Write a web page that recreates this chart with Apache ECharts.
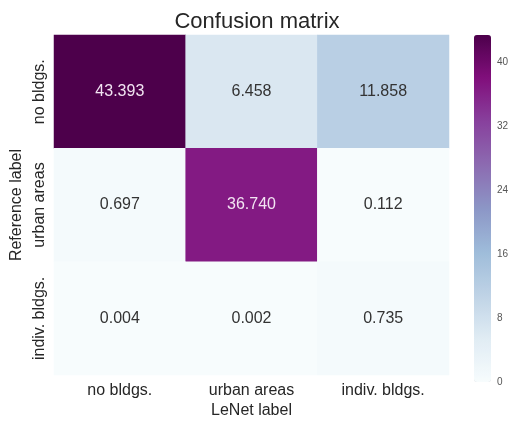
<!DOCTYPE html>
<html>
<head>
<meta charset="utf-8">
<style>
  html, body { margin: 0; padding: 0; background: #ffffff; }
  #chart { width: 511px; height: 424px; }
</style>
<script src="https://cdn.jsdelivr.net/npm/echarts@6/dist/echarts.min.js"></script>
</head>
<body>
<div id="chart"></div>
<script>
// Class names for predicted (columns) and reference (rows) labels
var predictedLabels = ['no bldgs.', 'urban areas', 'indiv. bldgs.'];
var referenceLabels = ['no bldgs.', 'urban areas', 'indiv. bldgs.'];

// Confusion matrix rows, one per reference class
var rowNoBldgs = [43.393, 6.458, 11.858];
var rowUrbanAreas = [0.697, 36.740, 0.112];
var rowIndivBldgs = [0.004, 0.002, 0.735];

// Colour bar tick values
var colorbarTicks = [0, 8, 16, 24, 32, 40];

var matrixRows = [rowNoBldgs, rowUrbanAreas, rowIndivBldgs];
var cells = [];
matrixRows.forEach(function (row, r) {
  row.forEach(function (v, c) { cells.push([c, r, v]); });
});
var vmax = Math.max.apply(null, cells.map(function (d) { return d[2]; }));

// BuPu sequential palette
var buPu = ['#f7fcfd', '#e0ecf4', '#bfd3e6', '#9ebcda', '#8c96c6',
            '#8c6bb1', '#88419d', '#810f7c', '#4d004b'];

var font = 'Liberation Sans, Arial, sans-serif';
var chart = echarts.init(document.getElementById('chart'), null, { renderer: 'canvas' });

chart.setOption({
  animation: false,
  backgroundColor: '#ffffff',
  title: {
    text: 'Confusion matrix',
    left: 252, top: 6, textAlign: 'center',
    textStyle: { fontFamily: font, fontSize: 22, fontWeight: 'normal', color: '#262626' }
  },
  grid: [
    { left: 54, right: 62, top: 35, bottom: 42 },
    { left: 474, width: 17, top: 35, height: 347 }
  ],
  xAxis: [
    {
      type: 'category', gridIndex: 0, data: predictedLabels,
      axisLine: { show: false }, axisTick: { show: false }, splitLine: { show: false },
      axisLabel: { fontFamily: font, fontSize: 16, color: '#262626', margin: 7 },
      name: 'LeNet label', nameLocation: 'middle', nameGap: 24,
      nameTextStyle: { fontFamily: font, fontSize: 16, color: '#262626' }
    },
    { type: 'category', gridIndex: 1, data: [''], show: false }
  ],
  yAxis: [
    {
      type: 'category', gridIndex: 0, data: referenceLabels, inverse: true,
      axisLine: { show: false }, axisTick: { show: false }, splitLine: { show: false },
      axisLabel: { fontFamily: font, fontSize: 16, color: '#262626', rotate: 90, margin: 6 },
      name: 'Reference label', nameLocation: 'middle', nameGap: 20,
      nameTextStyle: { fontFamily: font, fontSize: 16, color: '#262626' }
    },
    {
      type: 'value', gridIndex: 1, position: 'right',
      min: 0, max: vmax, interval: 8,
      axisLine: { show: false }, axisTick: { show: false }, splitLine: { show: false },
      axisLabel: {
        fontFamily: font, fontSize: 10, color: '#555555', margin: 9,
        customValues: colorbarTicks
      }
    }
  ],
  visualMap: {
    type: 'continuous', min: 0, max: vmax, calculable: false,
    seriesIndex: 0, inRange: { color: buPu },
    orient: 'vertical', left: 474, top: 35, padding: 0,
    itemWidth: 17, itemHeight: 347, text: null, showLabel: false
  },
  series: [{
    type: 'heatmap', xAxisIndex: 0, yAxisIndex: 0,
    data: cells.map(function (d) {
      // light text on the dark cells
      return d[2] > vmax * 0.6
        ? { value: d, label: { color: '#f2e4f2' } }
        : { value: d };
    }),
    label: {
      show: true, fontFamily: font, fontSize: 16,
      formatter: function (p) { return p.value[2].toFixed(3); },
      color: '#333333'
    },
    itemStyle: { borderWidth: 0 },
    emphasis: { disabled: true }
  }]
});
</script>
</body>
</html>
